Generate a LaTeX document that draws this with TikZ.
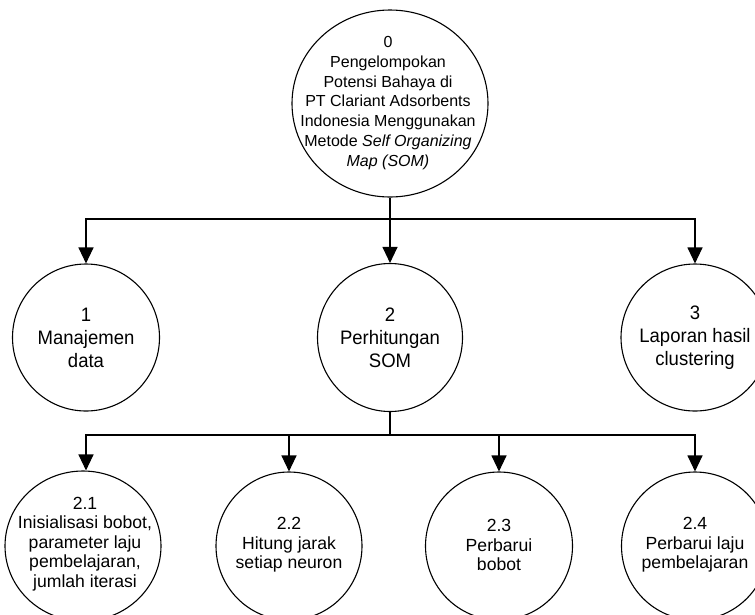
\documentclass[tikz,border=0pt]{standalone}
\usepackage{fontspec}
\setmainfont{Liberation Sans}
\newfontfamily\midfont[FakeStretch=0.95]{Liberation Sans}
\usetikzlibrary{shapes.geometric,arrows.meta}

\tikzset{
  proc/.style={ellipse, draw, line width=1.1pt, inner sep=0pt, fill=white},
  toptext/.style={align=center, inner sep=0pt, font=\fontsize{16}{19.8}\selectfont},
  midtext/.style={align=center, inner sep=0pt, font=\midfont\fontsize{19.5}{23}\selectfont},
  lowtext/.style={align=center, inner sep=0pt, font=\fontsize{17.6}{19.6}\selectfont},
  link/.style={line width=1.1pt},
  flow/.style={line width=1.1pt, -{Triangle[length=16pt,width=15pt]}},
}

\begin{document}
\begin{tikzpicture}[x=1pt, y=-1pt]
  \clip (0,0) rectangle (755,614);
  \fill[white] (0,0) rectangle (755,614);

  % level 0
  \node[proc, minimum width=196pt, minimum height=187pt] (p0) at (390,103.5) {};
  \node[toptext] (p0t) at (388,103) {0\\Pengelompokan\\Potensi Bahaya di\\PT Clariant Adsorbents\\Indonesia Menggunakan\\Metode \textit{Self Organizing}\\\textit{Map (SOM)}};

  % level 1
  \node[proc, minimum width=147pt, minimum height=147pt] (p1) at (86,337.5) {};
  \node[proc, minimum width=145pt, minimum height=148pt] (p2) at (390,337.5) {};
  \node[proc, minimum width=148pt, minimum height=147pt] (p3) at (695,337.5) {};
  \node[midtext] (p1t) at (p1) {1\\Manajemen\\data};
  \node[midtext] (p2t) at (p2) {2\\Perhitungan\\SOM};
  \node[midtext] (p3t) at (p3) {3\\Laporan hasil\\clustering};

  % level 2
  \node[proc, minimum width=156pt, minimum height=150pt] (p21) at (83,546) {};
  \node[proc, minimum width=146pt, minimum height=148pt] (p22) at (289,546) {};
  \node[proc, minimum width=147pt, minimum height=148pt] (p23) at (499,546) {};
  \node[proc, minimum width=147pt, minimum height=148pt] (p24) at (695,546) {};
  \node[lowtext] (p21t) at (85,544) {2.1\\Inisialisasi bobot,\\parameter laju\\pembelajaran,\\jumlah iterasi};
  \node[lowtext] (p22t) at (289,545) {2.2\\Hitung jarak\\setiap neuron};
  \node[lowtext] (p23t) at (499,545) {2.3\\Perbarui\\bobot};
  \node[lowtext] (p24t) at (695,545) {2.4\\Perbarui laju\\pembelajaran};

  % branching points
  \coordinate (bus0) at (390,219);
  \coordinate (bus2) at (390,435);

  \draw[link] (p0.south) -- (bus0);
  \draw[flow] (bus0) -| (p1.north);
  \draw[flow] (bus0) -- (p2.north);
  \draw[flow] (bus0) -| (p3.north);

  \draw[link] (p2.south) -- (bus2);
  \draw[flow] (bus2) -| (p21.north -| 86,0);
  \draw[flow] (bus2) -| (p22.north);
  \draw[flow] (bus2) -| (p23.north);
  \draw[flow] (bus2) -| (p24.north);
\end{tikzpicture}
\end{document}
